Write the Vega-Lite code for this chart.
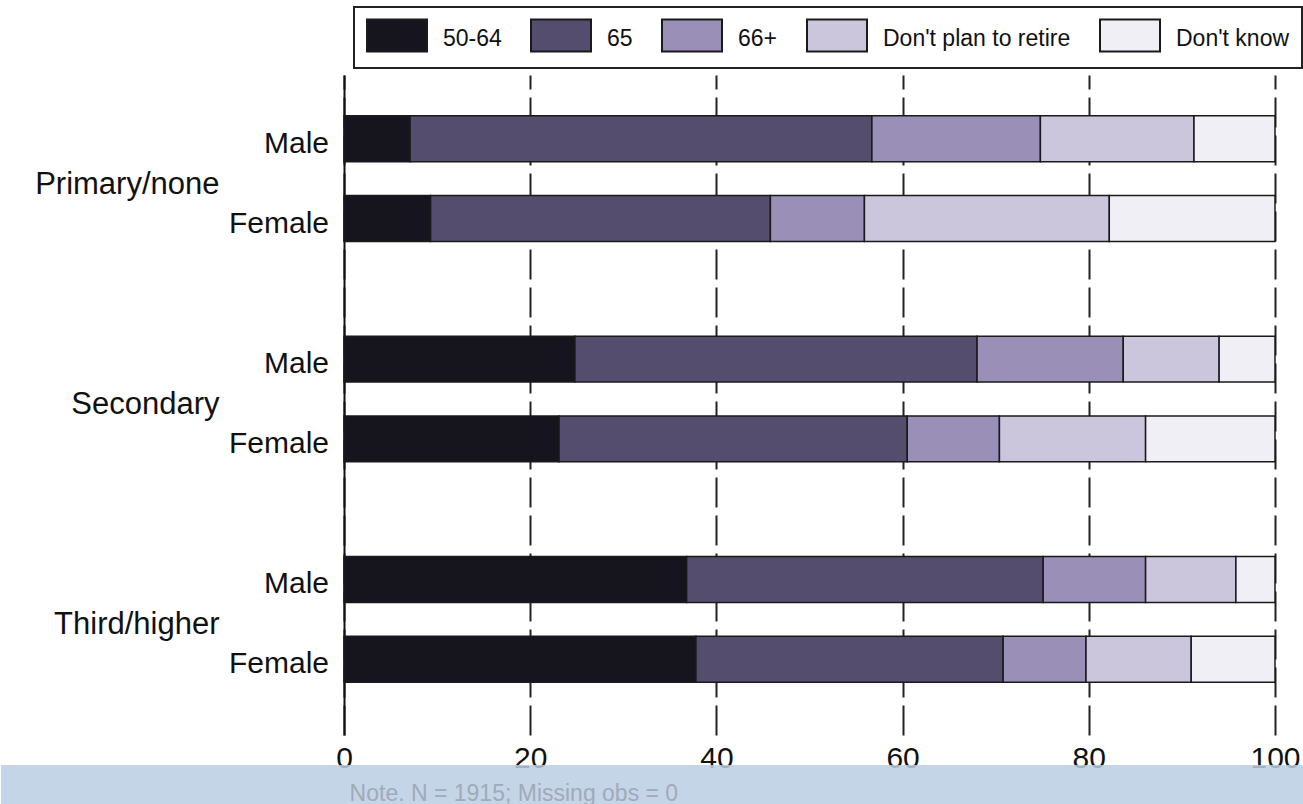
{
  "$schema": "https://vega.github.io/schema/vega-lite/v6.json",
  "padding": {"left": 0, "top": 6, "right": 0, "bottom": 0},
  "bounds": "flush",
  "spacing": 30,
  "config": {
    "font": "Liberation Sans",
    "view": {"stroke": null}
  },
  "datasets": {
    "retire": [
      {"edu": "Primary/none", "sex": "Male", "age": "50-64", "k": 1, "pct": 7.1},
      {"edu": "Primary/none", "sex": "Male", "age": "65", "k": 2, "pct": 49.6},
      {"edu": "Primary/none", "sex": "Male", "age": "66+", "k": 3, "pct": 18.1},
      {"edu": "Primary/none", "sex": "Male", "age": "Don't plan to retire", "k": 4, "pct": 16.5},
      {"edu": "Primary/none", "sex": "Male", "age": "Don't know", "k": 5, "pct": 8.7},
      {"edu": "Primary/none", "sex": "Female", "age": "50-64", "k": 1, "pct": 9.3},
      {"edu": "Primary/none", "sex": "Female", "age": "65", "k": 2, "pct": 36.5},
      {"edu": "Primary/none", "sex": "Female", "age": "66+", "k": 3, "pct": 10.1},
      {"edu": "Primary/none", "sex": "Female", "age": "Don't plan to retire", "k": 4, "pct": 26.3},
      {"edu": "Primary/none", "sex": "Female", "age": "Don't know", "k": 5, "pct": 17.8},
      {"edu": "Secondary", "sex": "Male", "age": "50-64", "k": 1, "pct": 24.8},
      {"edu": "Secondary", "sex": "Male", "age": "65", "k": 2, "pct": 43.2},
      {"edu": "Secondary", "sex": "Male", "age": "66+", "k": 3, "pct": 15.7},
      {"edu": "Secondary", "sex": "Male", "age": "Don't plan to retire", "k": 4, "pct": 10.3},
      {"edu": "Secondary", "sex": "Male", "age": "Don't know", "k": 5, "pct": 6.0},
      {"edu": "Secondary", "sex": "Female", "age": "50-64", "k": 1, "pct": 23.1},
      {"edu": "Secondary", "sex": "Female", "age": "65", "k": 2, "pct": 37.4},
      {"edu": "Secondary", "sex": "Female", "age": "66+", "k": 3, "pct": 9.9},
      {"edu": "Secondary", "sex": "Female", "age": "Don't plan to retire", "k": 4, "pct": 15.7},
      {"edu": "Secondary", "sex": "Female", "age": "Don't know", "k": 5, "pct": 13.9},
      {"edu": "Third/higher", "sex": "Male", "age": "50-64", "k": 1, "pct": 36.8},
      {"edu": "Third/higher", "sex": "Male", "age": "65", "k": 2, "pct": 38.3},
      {"edu": "Third/higher", "sex": "Male", "age": "66+", "k": 3, "pct": 11.0},
      {"edu": "Third/higher", "sex": "Male", "age": "Don't plan to retire", "k": 4, "pct": 9.7},
      {"edu": "Third/higher", "sex": "Male", "age": "Don't know", "k": 5, "pct": 4.2},
      {"edu": "Third/higher", "sex": "Female", "age": "50-64", "k": 1, "pct": 37.8},
      {"edu": "Third/higher", "sex": "Female", "age": "65", "k": 2, "pct": 33.0},
      {"edu": "Third/higher", "sex": "Female", "age": "66+", "k": 3, "pct": 8.9},
      {"edu": "Third/higher", "sex": "Female", "age": "Don't plan to retire", "k": 4, "pct": 11.3},
      {"edu": "Third/higher", "sex": "Female", "age": "Don't know", "k": 5, "pct": 9.0}
    ]
  },
  "vconcat": [
    {
      "width": 931,
      "height": 660,
      "data": {"name": "retire"},
      "encoding": {
        "y": {
          "field": "edu",
          "type": "nominal",
          "sort": ["Primary/none", "Secondary", "Third/higher"],
          "scale": {"paddingInner": 0.43, "paddingOuter": 0.2127, "align": 0.436},
          "axis": {
            "title": null,
            "domain": true,
            "domainColor": "#111111",
            "domainWidth": 2,
            "ticks": false,
            "grid": false,
            "labelPadding": 125,
            "labelOffset": 6,
            "labelFontSize": 31,
            "labelColor": "#111111",
            "labelLimit": 400
          }
        },
        "yOffset": {
          "field": "sex",
          "type": "nominal",
          "sort": ["Male", "Female"],
          "scale": {"paddingInner": 0.425, "paddingOuter": 0}
        }
      },
      "layer": [
        {
          "mark": {"type": "bar", "stroke": "#1a1a1a", "strokeWidth": 1.5},
          "encoding": {
            "x": {
              "field": "pct",
              "type": "quantitative",
              "stack": "zero",
              "scale": {"domain": [0, 100], "nice": false},
              "axis": {
                "title": null,
                "values": [0, 20, 40, 60, 80, 100],
                "domain": false,
                "ticks": false,
                "grid": true,
                "gridDash": [30, 8],
                "gridColor": "#222222",
                "gridWidth": 2,
                "gridOpacity": 1,
                "labelFontSize": 30,
                "labelPadding": 8,
                "labelColor": "#111111",
                "labelFlush": false
              }
            },
            "color": {
              "field": "age",
              "type": "nominal",
              "scale": {
                "domain": ["50-64", "65", "66+", "Don't plan to retire", "Don't know"],
                "range": ["#16151e", "#544d6e", "#9a8fb7", "#cbc6dc", "#f0eff5"]
              },
              "legend": {
                "title": null,
                "orient": "none",
                "legendX": 10,
                "legendY": -68,
                "direction": "horizontal",
                "columns": 5,
                "columnPadding": 25,
                "padding": 12,
                "fillColor": "white",
                "strokeColor": "#222222",
                "symbolType": "M-1,-1.07H3V1.07H-1Z",
                "symbolSize": 900,
                "symbolStrokeColor": "#1a1a1a",
                "symbolStrokeWidth": 2,
                "symbolOpacity": 1,
                "labelOffset": 45,
                "labelFontSize": 23,
                "labelColor": "#111111",
                "labelLimit": 300,
                "encode": {
                  "legend": {"update": {"strokeWidth": {"value": 2}}},
                  "labels": {"update": {"dy": {"value": 4}}}
                }
              }
            },
            "order": {"field": "k", "type": "quantitative"}
          }
        },
        {
          "transform": [{"filter": "datum.k === 1"}],
          "mark": {"type": "text", "align": "right", "baseline": "middle", "dx": -15, "dy": 5, "fontSize": 30, "color": "#111111"},
          "encoding": {
            "x": {"datum": 0, "type": "quantitative"},
            "text": {"field": "sex"}
          }
        }
      ]
    },
    {
      "width": 931,
      "height": 40,
      "data": {"values": [{"note": "Note. N = 1915; Missing obs = 0"}]},
      "layer": [
        {
          "mark": {"type": "rect", "color": "#bbcee4", "opacity": 0.85},
          "encoding": {
            "x": {"datum": -36.85, "type": "quantitative", "scale": {"domain": [0, 100], "nice": false}, "axis": null},
            "x2": {"datum": 103.3}
          }
        },
        {
          "mark": {"type": "text", "align": "left", "baseline": "middle", "dy": 9, "fontSize": 23, "color": "#a0aab8"},
          "encoding": {
            "x": {"datum": 0.6, "type": "quantitative", "axis": null},
            "text": {"field": "note"}
          }
        }
      ]
    }
  ]
}
